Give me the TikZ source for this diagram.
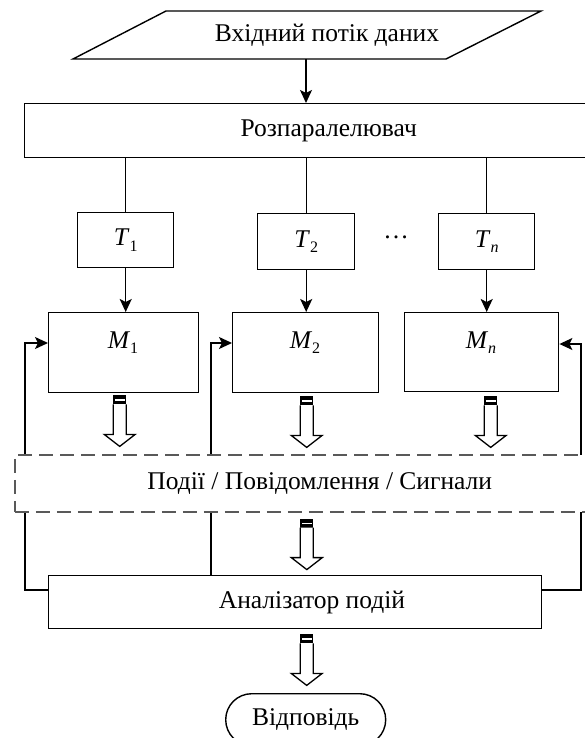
\documentclass[tikz,border=0pt]{standalone}
\usepackage{fontspec}
\setmainfont{Liberation Serif}
\usetikzlibrary{arrows.meta}
\newcommand{\mysub}[2]{\textit{#1}\raisebox{-0.45ex}{\fontsize{16}{18}\selectfont #2}}
\begin{document}
\begin{tikzpicture}[x=1pt,y=-1pt,line width=1.4pt,
  box/.style={draw,rectangle,inner sep=0pt,anchor=north west},
  lbl/.style={font=\fontsize{25.5}{30}\selectfont,inner sep=0pt},
  arr/.style={-{Stealth[length=13pt,width=12pt,inset=3pt]}},
  dashbox/.style={draw=black!65,dash pattern=on 14pt off 7pt,line width=1.6pt,fill=white,rectangle,inner sep=0pt,anchor=north west},
  hollow/.pic={
    \fill[black] (-6.5,0) rectangle (6.5,9);
    \fill[white] (-5,4) rectangle (5,5.5);
    \draw[fill=white,line width=1.3pt,line join=miter] (-6.5,9) -- (-6.5,39) -- (-15.5,39) -- (0,51) -- (15.5,39) -- (6.5,39) -- (6.5,9);
  }]
\useasboundingbox (0,0) rectangle (585,738);
\clip (0,0) rectangle (585,738);

% input parallelogram
\draw (166,11) -- (541,11) -- (446,59) -- (73,59) -- cycle;
\node[lbl] (inp) at (327,35) {Вхідний потік даних};
\coordinate (inbot) at (306,59);

% demultiplexer
\node[box,lbl,minimum width=608pt,minimum height=54pt] (rp) at (24,103) {Розпаралелювач};
\draw[arr] (inbot) -- (inbot |- rp.north);

% T boxes
\node[box,lbl,minimum width=96pt,minimum height=55pt] (t1) at (77,212) {\mysub{T}{1}};
\node[box,lbl,minimum width=97pt,minimum height=56pt] (t2) at (257,213) {\mysub{T}{2}};
\node[box,lbl,minimum width=96pt,minimum height=56pt] (tn) at (438,213) {\mysub{T}{\textit{n}}};
\node[lbl] (dots) at (396,237) {…};
\draw (t1.north |- rp.south) -- (t1.north);
\draw (t2.north |- rp.south) -- (t2.north);
\draw (tn.north |- rp.south) -- (tn.north);

% M boxes
\node[box,minimum width=150pt,minimum height=80pt] (m1) at (48,312) {};
\node[box,minimum width=146pt,minimum height=80pt] (m2) at (232,312) {};
\node[box,minimum width=154pt,minimum height=79pt] (mn) at (404,312) {};
\node[lbl] (m1t) at (123,343) {\mysub{M}{1}};
\node[lbl] (m2t) at (305,343) {\mysub{M}{2}};
\node[lbl] (mnt) at (481,343) {\mysub{M}{\textit{n}}};
\draw[arr] (t1.south) -- (t1.south |- m1.north);
\draw[arr] (t2.south) -- (t2.south |- m2.north);
\draw[arr] (tn.south) -- (tn.south |- mn.north);

% analyser
\node[box,minimum width=493pt,minimum height=53pt] (an) at (48,575) {};
\node[lbl] (ant) at (312,602) {Аналізатор подій};

% answer
\node[draw,rounded corners=26pt,minimum width=160pt,minimum height=52pt,inner sep=0pt,anchor=north west,lbl] (ans) at (225,693) {Відповідь};

% feedback lines
\coordinate (fa) at (25,590);
\coordinate (fb) at (25,343);
\coordinate (fc) at (211,343);
\coordinate (fd) at (581,590);
\coordinate (fe) at (581,344);
\draw[arr] (an.west |- fa) -- (fa) -- (fb) -- (m1.west |- fb);
\draw[arr] (an.north -| fc) -- (fc) -- (m2.west |- fc);
\draw[arr] (an.east |- fd) -- (fd) -- (fe) -- (mn.east |- fe);

% events box
\node[dashbox,lbl,minimum width=610pt,minimum height=57pt] (ev) at (14,454) {Події / Повідомлення / Сигнали};

% hollow arrows
\pic at ([xshift=-4pt,yshift=-2pt]m1.south) {hollow};
\pic at ([xshift=1pt,yshift=-3pt]m2.south) {hollow};
\pic at ([xshift=9pt,yshift=-4pt]mn.south) {hollow};
\pic at ([xshift=-13pt,yshift=-6pt]ev.south) {hollow};
\pic at ([xshift=11.5pt,yshift=-5pt]an.south) {hollow};
\end{tikzpicture}
\end{document}
